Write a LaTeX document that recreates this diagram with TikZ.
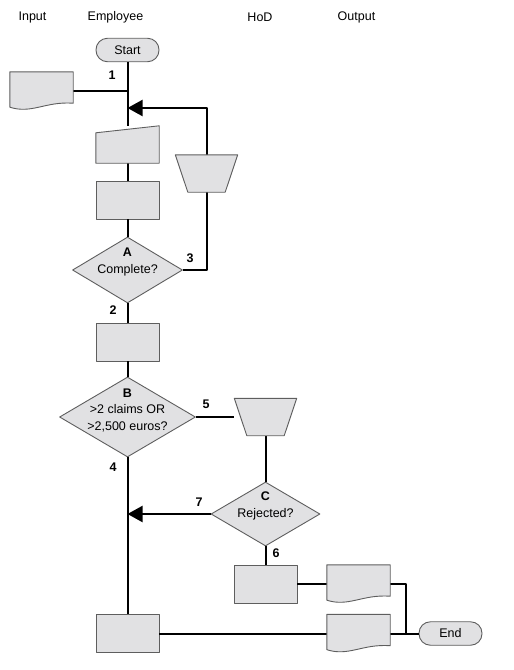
\documentclass[tikz,border=0pt]{standalone}
\usepackage{fontspec}
\setmainfont{Liberation Sans}
\usetikzlibrary{shapes.geometric,arrows.meta}
\definecolor{boxgray}{HTML}{E1E1E3}
\definecolor{edgegray}{HTML}{5E5E5E}
% shapes drawn round an empty named node
\newcommand\docshape[1]{\filldraw[shapeline] ([yshift=3pt]#1.south west) -- (#1.north west) -- (#1.north east) -- ([yshift=7pt]#1.south east) .. controls ([xshift=-28pt,yshift=9pt]#1.south east) and ([xshift=22pt,yshift=-4pt]#1.south west) .. ([yshift=3pt]#1.south west) -- cycle;}
\newcommand\maninput[1]{\filldraw[shapeline] ([yshift=-7pt]#1.north west) -- (#1.north east) -- (#1.south east) -- (#1.south west) -- cycle;}
\newcommand\manop[1]{\filldraw[shapeline] (#1.north west) -- (#1.north east) -- ([xshift=-12.5pt]#1.south east) -- ([xshift=12.5pt]#1.south west) -- cycle;}
\begin{document}
\begin{tikzpicture}[x=1pt, y=-1pt, font=\fontsize{12.5}{16.5}\selectfont, line join=round,
    shapeline/.style={draw=edgegray, fill=boxgray, line width=0.9pt},
    slot/.style={inner sep=0pt, minimum width=63pt, minimum height=38pt},
    procbox/.style={slot, shapeline},
    term/.style={shapeline, rounded corners=11.5pt, inner sep=0pt, minimum width=63pt, minimum height=23.5pt},
    decision/.style={diamond, shapeline, inner sep=0pt},
    flow/.style={line width=2pt, black},
    tip/.style={-{Triangle[length=15pt,width=16pt]}},
    num/.style={font=\fontsize{12.5}{15}\selectfont\bfseries}]
  \useasboundingbox (0,0) rectangle (514,670);
  % lane headings
  \node (hIn) at (32.5,17) {Input};
  \node (hEmp) at (115.5,17) {Employee};
  \node (hHod) at (260,17) {HoD};
  \node (hOut) at (356.5,17) {Output};
  % employee column
  \node[term] (st) at (127.5,50) {Start};
  \node[slot] (in1) at (41.5,91) {};
  \node[slot, minimum height=37pt] (mi) at (127.5,144.5) {};
  \node[procbox] (p1) at (127.5,200) {};
  \node[decision, minimum width=110pt, minimum height=66pt] (dA) at (127.5,270) {};
  \node[align=center] (tA) at ([yshift=8pt]dA.center) {\textbf{A}\\Complete?};
  \node[slot, minimum width=62pt, minimum height=37pt] (t1) at (206.5,173.5) {};
  \node[procbox] (p2) at (127.5,342) {};
  \node[decision, minimum width=136pt, minimum height=80pt] (dB) at (127.5,417) {};
  \node[align=center] (tB) at ([yshift=7pt]dB.center) {\textbf{B}\\>2 claims OR\\>2,500 euros?};
  \node[slot, minimum width=62pt, minimum height=37pt] (t2) at (265.5,417) {};
  \node[decision, minimum width=109pt, minimum height=64pt] (dC) at (265.5,514) {};
  \node[align=center] (tC) at ([yshift=8pt]dC.center) {\textbf{C}\\Rejected?};
  \node[procbox] (p3) at (265.5,584) {};
  \node[slot] (o1) at (358.5,584) {};
  \node[procbox] (p4) at (127.5,633.5) {};
  \node[slot] (o2) at (358.5,633.5) {};
  \node[term] (en) at (450.5,633.5) {End};
  \coordinate (j1) at (127.5,108);
  \coordinate (j2) at (406,633.5);
  % connectors
  \draw[flow] (st.south) -- (mi.north);
  \draw[flow] (in1.east) -- (in1.east -| st.south);
  \draw[flow] (mi.south) -- (p1.north);
  \draw[flow] (p1.south) -- (dA.north);
  \draw[flow] (dA.east) -| (t1.south);
  \draw[flow, tip] (t1.north) |- (j1);
  \draw[flow] (dA.south) -- (p2.north);
  \draw[flow] (p2.south) -- (dB.north);
  \draw[flow] (dB.east) -- (t2.west);
  \draw[flow] (t2.south) -- (dC.north);
  \draw[flow, tip] (dC.west) -- (dC.west -| st.south);
  \draw[flow] (dB.south) -- (p4.north);
  \draw[flow] (dC.south) -- (p3.north);
  \draw[flow] (p3.east) -- (o1.west);
  \draw[flow] (o1.east) -| (j2);
  \draw[flow] (p4.east) -- (o2.west);
  \draw[flow] (o2.east) -- (en.west);
  % shapes over the line ends
  \docshape{in1}
  \docshape{o1}
  \docshape{o2}
  \maninput{mi}
  \manop{t1}
  \manop{t2}
  % flow numbers
  \node[num] (n1) at (112,75) {1};
  \node[num] (n2) at (113,310) {2};
  \node[num] (n3) at (190,258) {3};
  \node[num] (n4) at (113,467) {4};
  \node[num] (n5) at (206,404) {5};
  \node[num] (n6) at (276,553) {6};
  \node[num] (n7) at (199,502) {7};
\end{tikzpicture}
\end{document}
